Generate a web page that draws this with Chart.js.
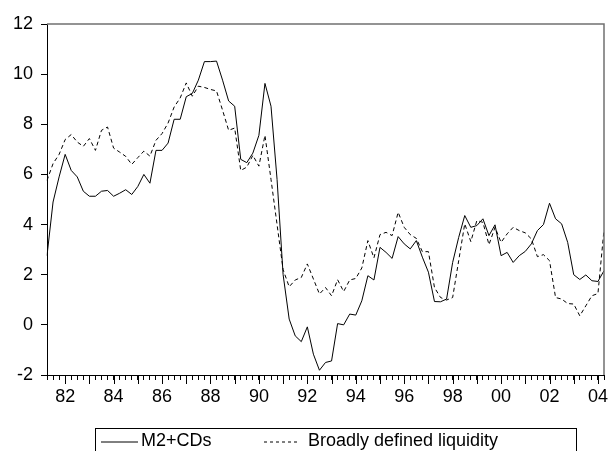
<!DOCTYPE html>
<html>
<head>
<meta charset="utf-8">
<script src="https://cdn.jsdelivr.net/npm/chart.js@4/dist/chart.umd.min.js"></script>
<style>
  html, body { margin: 0; padding: 0; background: #fff; }
  #wrap { position: relative; width: 610px; height: 451px; overflow: hidden; }
  #legend {
    position: absolute; left: 95px; top: 428px; width: 482px; height: 40px;
    border: 1px solid #000; box-sizing: border-box;
    font-family: "Liberation Sans", Arial, sans-serif; font-size: 18px; color: #000;
  }
  #legend .item { position: absolute; top: 1px; line-height: 21px; white-space: nowrap; }
  #legend svg { position: absolute; top: 12px; }
</style>
</head>
<body>
<div id="wrap">
  <canvas id="chart" width="610" height="451"></canvas>
  <div id="legend">
    <svg style="left:5px" width="37" height="2"><line x1="0" y1="1" x2="37" y2="1" stroke="#000" stroke-width="1"/></svg>
    <span class="item" style="left:45px">M2+CDs</span>
    <svg style="left:168px" width="36" height="2"><line x1="0" y1="1" x2="36" y2="1" stroke="#000" stroke-width="1" stroke-dasharray="3,3"/></svg>
    <span class="item" style="left:212px">Broadly defined liquidity</span>
  </div>
</div>
<script>
// quarterly, 1981Q2 .. 2004Q2
const startYear = 1981;
const startQuarter = 2;
const quarters = [];
for (let i = 0; i < 93; i++) {
  const q = startQuarter - 1 + i;
  quarters.push((startYear + Math.floor(q / 4)) + "Q" + (q % 4 + 1));
}

const m2cds = [
  2.76, 4.9, 5.9, 6.8, 6.16, 5.9, 5.33, 5.13, 5.13, 5.33,
  5.36, 5.13, 5.25, 5.39, 5.2, 5.52, 6.0, 5.65, 6.96, 6.96,
  7.25, 8.2, 8.2, 9.1, 9.23, 9.76, 10.5, 10.5, 10.52, 9.76,
  8.93, 8.72, 6.6, 6.47, 6.85, 7.56, 9.63, 8.72, 5.8, 2.0,
  0.23, -0.44, -0.67, -0.08, -1.17, -1.81, -1.5, -1.44, 0.05, 0.0,
  0.43, 0.39, 0.96, 1.96, 1.79, 3.09, 2.89, 2.65, 3.52, 3.23,
  3.03, 3.36, 2.7, 2.1, 0.93, 0.92, 1.03, 2.49, 3.49, 4.36,
  3.89, 3.96, 4.23, 3.56, 3.99, 2.76, 2.89, 2.49, 2.76, 2.93,
  3.23, 3.76, 4.0, 4.85, 4.23, 4.03, 3.29, 2.0, 1.81, 1.99,
  1.76, 1.73, 2.16
];

const broadLiquidity = [
  5.76, 6.43, 6.8, 7.39, 7.59, 7.29, 7.12, 7.43, 6.96, 7.76,
  7.89, 7.05, 6.89, 6.72, 6.4, 6.67, 6.93, 6.73, 7.36, 7.63,
  8.05, 8.69, 9.05, 9.65, 9.12, 9.52, 9.47, 9.39, 9.33, 8.56,
  7.76, 7.85, 6.16, 6.29, 6.76, 6.33, 7.56, 5.8, 4.0, 2.2,
  1.52, 1.79, 1.89, 2.43, 1.83, 1.23, 1.49, 1.16, 1.8, 1.33,
  1.79, 1.85, 2.27, 3.36, 2.67, 3.6, 3.69, 3.56, 4.49, 3.89,
  3.6, 3.45, 2.92, 2.92, 1.49, 1.09, 0.99, 1.09, 2.56, 4.03,
  3.32, 4.16, 4.09, 3.2, 3.89, 3.29, 3.63, 3.89, 3.76, 3.67,
  3.43, 2.72, 2.8, 2.56, 1.09, 1.03, 0.85, 0.83, 0.36, 0.76,
  1.16, 1.25, 3.79
];

const yMin = -2;
const yMax = 12;
const yStep = 2;

const font = { family: "'Liberation Sans', Arial, sans-serif", size: 18 };

// year ticks (longer) and the grey top/right frame
const framePlugin = {
  id: "frame",
  afterDraw(chart) {
    const { ctx, chartArea: a, scales } = chart;
    ctx.save();
    ctx.strokeStyle = "#707070";
    ctx.lineWidth = 1.5;
    ctx.beginPath();
    ctx.moveTo(a.left, a.top);
    ctx.lineTo(a.right, a.top);
    ctx.lineTo(a.right, a.bottom);
    ctx.stroke();
    ctx.strokeStyle = "#000";
    ctx.lineWidth = 1;
    ctx.beginPath();
    quarters.forEach((q, i) => {
      if (q.endsWith("Q1")) {
        const x = Math.round(scales.x.getPixelForValue(i)) + 0.5;
        ctx.moveTo(x, a.bottom);
        ctx.lineTo(x, a.bottom + 9);
      }
    });
    ctx.stroke();
    ctx.restore();
  }
};

new Chart(document.getElementById("chart"), {
  type: "line",
  data: {
    labels: quarters,
    datasets: [
      {
        label: "M2+CDs",
        data: m2cds,
        borderColor: "#000",
        borderWidth: 1,
        pointRadius: 0,
        tension: 0
      },
      {
        label: "Broadly defined liquidity",
        data: broadLiquidity,
        borderColor: "#000",
        borderWidth: 1,
        borderDash: [4, 3],
        pointRadius: 0,
        tension: 0
      }
    ]
  },
  options: {
    responsive: false,
    animation: false,
    layout: { padding: { top: 24, right: 3, left: 0, bottom: 0 } },
    plugins: { legend: { display: false }, tooltip: { enabled: false } },
    scales: {
      x: {
        afterFit(scale) { scale.height = 76; },
        grid: { drawOnChartArea: false, tickLength: 5, color: "#000" },
        border: { color: "#000", width: 1 },
        ticks: {
          autoSkip: false,
          maxRotation: 0,
          padding: 6,
          color: "#000",
          font,
          callback(v, i) {
            const q = quarters[i];
            const y = +q.slice(0, 4);
            return q.endsWith("Q1") && y % 2 === 0 ? String(y).slice(2) : "";
          }
        }
      },
      y: {
        min: yMin,
        max: yMax,
        afterFit(scale) { scale.width = 47; },
        grid: { drawOnChartArea: false, tickLength: 6, color: "#000" },
        border: { color: "#000", width: 1 },
        ticks: { stepSize: yStep, padding: 8, color: "#000", font }
      }
    }
  },
  plugins: [framePlugin]
});
</script>
</body>
</html>
